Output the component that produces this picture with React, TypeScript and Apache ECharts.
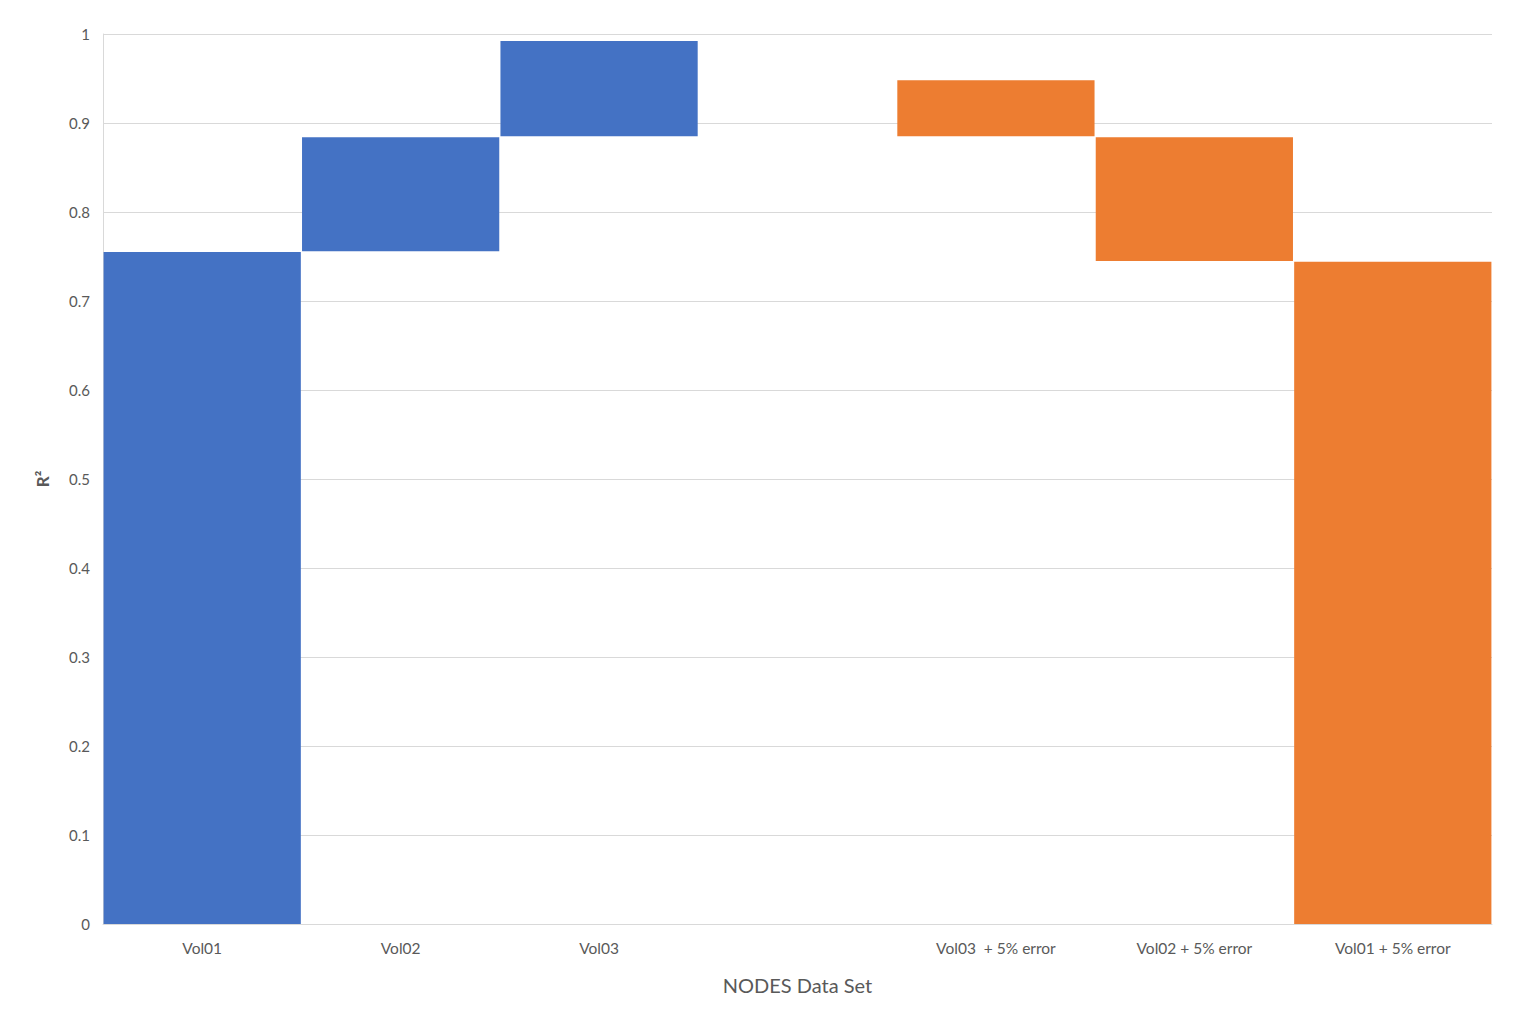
import React, { useEffect, useRef } from "react";
import * as echarts from "echarts";

const categories = [
  "Vol01",
  "Vol02",
  "Vol03",
  "",
  "Vol03  + 5% error",
  "Vol02 + 5% error",
  "Vol01 + 5% error",
];
// floating bar bottoms and tops (R²)
const lowValues = [0, 0.756, 0.885, null, 0.885, 0.745, 0];
const highValues = [0.755, 0.884, 0.992, null, 0.948, 0.884, 0.744];
const seriesKind = ["base", "base", "base", "none", "error", "error", "error"];
const yTicks = [0, 0.1, 0.2, 0.3, 0.4, 0.5, 0.6, 0.7, 0.8, 0.9, 1];

const BLUE = "#4472C4";
const ORANGE = "#ED7D31";
const FONT = "Lato, 'Noto Sans', sans-serif";

export default function App() {
  const ref = useRef<HTMLDivElement>(null);
  useEffect(() => {
    document.body.style.margin = "0";
    document.body.style.overflow = "hidden";
    const chart = echarts.init(ref.current!, null, { renderer: "svg" });
    const baseData = lowValues.map((v) => (v == null ? "-" : v));
    const blueData = categories.map((_, i) =>
      seriesKind[i] === "base" && highValues[i] != null
        ? +((highValues[i] as number) - (lowValues[i] as number)).toFixed(4)
        : "-"
    );
    const orangeData = categories.map((_, i) =>
      seriesKind[i] === "error" && highValues[i] != null
        ? +((highValues[i] as number) - (lowValues[i] as number)).toFixed(4)
        : "-"
    );
    chart.setOption({
      animation: false,
      backgroundColor: "#ffffff",
      textStyle: { fontFamily: FONT },
      grid: { left: 103, right: 45, top: 34, bottom: 96, containLabel: false },
      xAxis: {
        type: "category",
        data: categories,
        axisLine: { show: true, lineStyle: { color: "#D9D9D9", width: 1 } },
        axisTick: { show: false },
        axisLabel: {
          color: "#595959",
          fontSize: 15.5,
          fontFamily: FONT,
          margin: 16,
          interval: 0,
        },
        name: "NODES Data Set",
        nameLocation: "middle",
        nameGap: 51,
        nameTextStyle: { color: "#595959", fontSize: 20, fontFamily: FONT },
      },
      yAxis: {
        type: "value",
        min: yTicks[0],
        max: yTicks[yTicks.length - 1],
        interval: 0.1,
        axisLine: { show: true, lineStyle: { color: "#D9D9D9", width: 1 } },
        axisTick: { show: false },
        splitLine: { show: true, lineStyle: { color: "#D9D9D9", width: 1 } },
        axisLabel: {
          color: "#595959",
          fontSize: 15,
          fontFamily: FONT,
          margin: 13,
          formatter: (v: number) => String(+v.toFixed(1)),
        },
        name: "R²",
        nameLocation: "middle",
        nameGap: 52,
        nameRotate: 90,
        nameTextStyle: {
          color: "#595959",
          fontSize: 17,
          fontWeight: "bold",
          fontFamily: FONT,
        },
      },
      series: [
        {
          name: "base",
          type: "bar",
          stack: "w",
          data: baseData,
          itemStyle: { color: "transparent" },
          barCategoryGap: "0.6%",
          silent: true,
        },
        {
          name: "Vol",
          type: "bar",
          stack: "w",
          data: blueData,
          itemStyle: { color: BLUE },
          barCategoryGap: "0.6%",
        },
        {
          name: "Vol + 5% error",
          type: "bar",
          stack: "w",
          data: orangeData,
          itemStyle: { color: ORANGE },
          barCategoryGap: "0.6%",
        },
      ],
    });
    return () => chart.dispose();
  }, []);
  return <div ref={ref} style={{ width: 1537, height: 1020 }} />;
}
